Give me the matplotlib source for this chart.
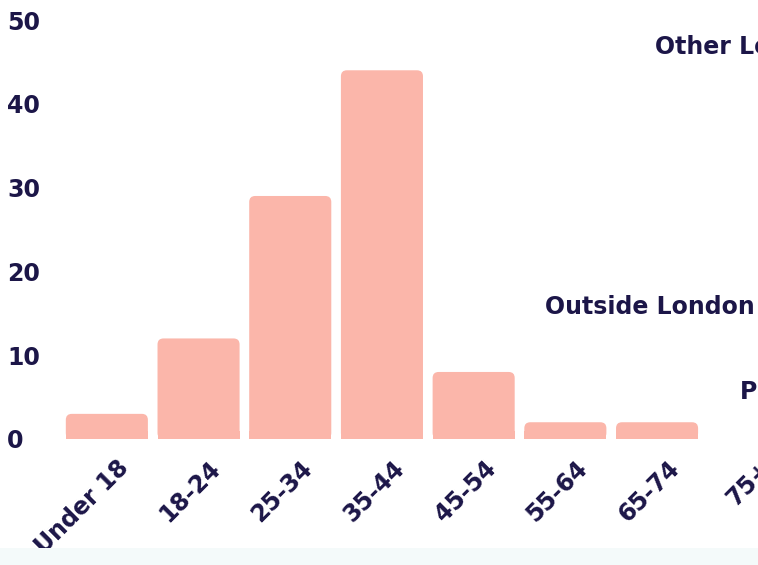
import numpy as np
import matplotlib.pyplot as plt
from matplotlib.patches import FancyBboxPatch, Rectangle
import matplotlib.transforms as mtransforms

# Data
age_groups = ['Under 18', '18-24', '25-34', '35-44', '45-54', '55-64', '65-74', '75+']
counts = [3, 12, 29, 44, 8, 2, 2, 0]

# cut-off labels from the neighbouring chart
side_labels = ['Other London', 'Outside London', 'P']

bar_color = '#FBB6AA'
text_color = '#1C1648'
fs = 17

plt.rcParams['font.family'] = ['DejaVu Sans']

fig = plt.figure(figsize=(7.58, 5.65), dpi=100)
fig.patch.set_facecolor('white')

# light band at the bottom
fig.patches.append(Rectangle((0, 0), 1, 17 / 565, transform=fig.transFigure,
                             facecolor='#F4FAFA', edgecolor='none', zorder=0))

ax = fig.add_axes([61 / 758, 126 / 565, 697 / 758, 419 / 565])
ax.set_facecolor('none')

x = np.arange(len(age_groups))
width = 0.895
ax.set_xlim(-0.5, -0.5 + 697 / 91.7)
ax.set_ylim(0, 50)

# rounded top bars (pixel aspect -> mutation_aspect)
px_x = 91.7
px_y = 419 / 50
rad = 6 / px_x
for xi, h in zip(x, counts):
    if h <= 0:
        continue
    p = FancyBboxPatch((xi - width / 2, 0), width, h,
                       boxstyle='round,pad=0,rounding_size=%f' % rad,
                       mutation_aspect=px_x / px_y,
                       facecolor=bar_color, edgecolor='none')
    ax.add_patch(p)
# square off the bottom corners
ax.bar(x, [min(h, 1.0) for h in counts], width=width, color=bar_color, linewidth=0)

for s in ax.spines.values():
    s.set_visible(False)
ax.set_yticks(range(0, 51, 10))
ax.tick_params(axis='both', length=0, colors=text_color, labelsize=fs)
ax.tick_params(axis='y', pad=0)
for lab in ax.get_yticklabels():
    lab.set_fontweight('bold')
    lab.set_horizontalalignment('left')
    lab.set_transform(lab.get_transform() + mtransforms.ScaledTranslation(-54 / 100, 0, fig.dpi_scale_trans))

ax.set_xticks(x)
ax.set_xticklabels(age_groups, rotation=45, ha='right', rotation_mode='anchor',
                   fontweight='bold', fontsize=fs, color=text_color)
offset = mtransforms.ScaledTranslation(10 / 100, -12 / 100, fig.dpi_scale_trans)
for lab in ax.get_xticklabels():
    lab.set_transform(lab.get_transform() + offset)

# partial labels on the right
fig.text(655 / 758, 1 - 47 / 565, side_labels[0], color=text_color, fontsize=fs,
         fontweight='bold', va='center', ha='left')
fig.text(545 / 758, 1 - 307 / 565, side_labels[1], color=text_color, fontsize=fs,
         fontweight='bold', va='center', ha='left')
fig.text(740 / 758, 1 - 392 / 565, side_labels[2], color=text_color, fontsize=fs,
         fontweight='bold', va='center', ha='left')

fig.savefig('out.png', dpi=100)
